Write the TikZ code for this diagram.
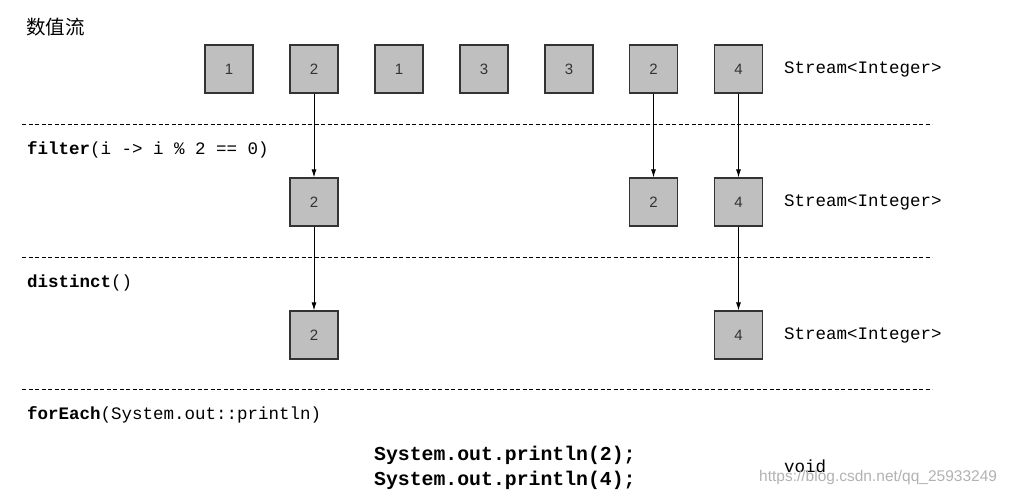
\documentclass[tikz,border=0pt]{standalone}
\usepackage{fontspec}
\setmainfont{Liberation Sans}
\setmonofont{Liberation Mono}
\newfontfamily\cjkfont{Noto Sans CJK SC}
\usetikzlibrary{arrows.meta}
\begin{document}
\begin{tikzpicture}[x=1pt,y=-1pt,
  elem/.style={draw=black!80,line width=1.2pt,fill=black!25,minimum width=48pt,minimum height=48pt,inner sep=0pt,text=black!80,font=\fontsize{15}{15}\selectfont},
  sep/.style={line width=0.8pt,dash pattern=on 4pt off 2.5pt},
  flow/.style={-{Latex[length=8pt,width=5pt]},line width=0.9pt},
  code/.style={anchor=west,inner sep=0pt,font=\ttfamily\fontsize{17.5}{17.5}\selectfont},
  bigcode/.style={anchor=west,inner sep=0pt,font=\ttfamily\bfseries\fontsize{19.8}{19.8}\selectfont}]
\useasboundingbox (0,0) rectangle (1012,496);
\fill[white] (0,0) rectangle (1012,496);
% title
\node[anchor=west,inner sep=0pt,font=\cjkfont\fontsize{19.5}{19.5}\selectfont] (title) at (26,27) {数值流};
% row 1
\node[elem] (a1) at (229,69) {1};
\node[elem] (a2) at (314,69) {2};
\node[elem] (a3) at (399,69) {1};
\node[elem] (a4) at (484,69) {3};
\node[elem] (a5) at (569,69) {3};
\node[elem] (a6) at (653.5,69) {2};
\node[elem] (a7) at (738.5,69) {4};
\node[code] (s1) at (784,69) {Stream<Integer>};
% separators
\coordinate (l1a) at (22,124); \coordinate (l1b) at (932,124);
\coordinate (l2a) at (22,257); \coordinate (l2b) at (932,257);
\coordinate (l3a) at (22,389); \coordinate (l3b) at (932,389);
\draw[sep] (l1a) -- (l1b);
\draw[sep] (l2a) -- (l2b);
\draw[sep] (l3a) -- (l3b);
% operation labels
\node[code] (op1) at (27,150) {\textbf{filter}(i -> i \% 2 == 0)};
\node[code] (op2) at (27,283) {\textbf{distinct}()};
\node[code] (op3) at (27,415) {\textbf{forEach}(System.out::println)};
% row 2
\node[elem] (b2) at (314,202) {2};
\node[elem] (b6) at (653.5,202) {2};
\node[elem] (b7) at (738.5,202) {4};
\node[code] (s2) at (784,202) {Stream<Integer>};
% row 3
\node[elem] (c2) at (314,335) {2};
\node[elem] (c7) at (738.5,335) {4};
\node[code] (s3) at (784,335) {Stream<Integer>};
% arrows
\draw[flow] (a2) -- (b2);
\draw[flow] (a6) -- (b6);
\draw[flow] (a7) -- (b7);
\draw[flow] (b2) -- (c2);
\draw[flow] (b7) -- (c7);
% output
\node[bigcode] (p1) at (374,455) {System.out.println(2);};
\node[bigcode] (p2) at (374,480) {System.out.println(4);};
\node[code] (v) at (784,466) {void};
\node[anchor=west,inner sep=0pt,text=black!30,font=\fontsize{15.5}{15.5}\selectfont] (wm) at (759,477) {https://blog.csdn.net/qq\_25933249};
\end{tikzpicture}
\end{document}
